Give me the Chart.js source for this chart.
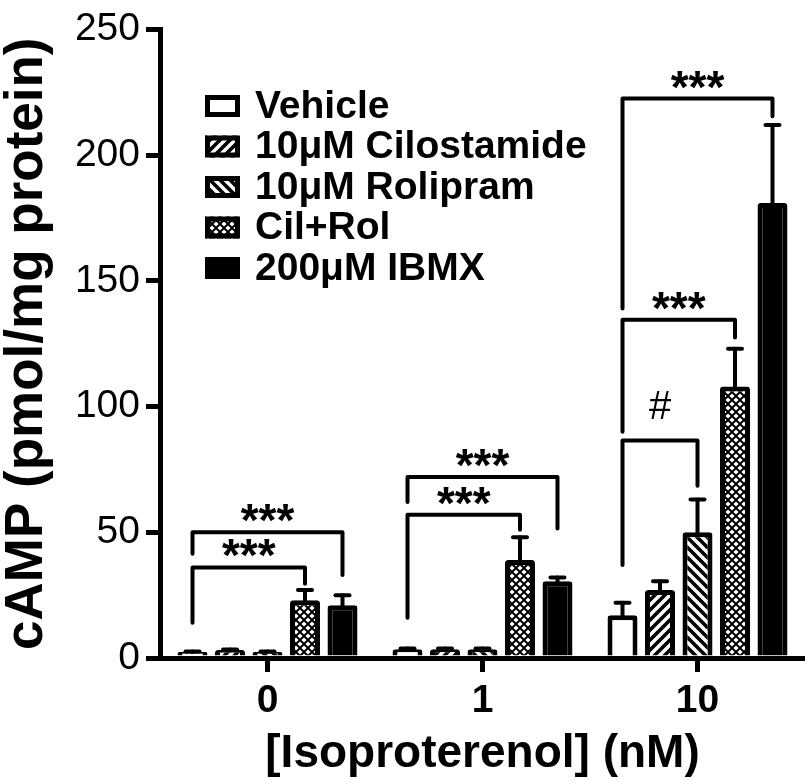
<!DOCTYPE html>
<html>
<head>
<meta charset="utf-8">
<script src="https://cdn.jsdelivr.net/npm/chart.js@4.4.1/dist/chart.umd.min.js"></script>
<style>
  html, body { margin: 0; padding: 0; background: #fff; }
</style>
</head>
<body>
<canvas id="campChart" width="805" height="782"></canvas>
<script>
// data
const categories = ["0", "1", "10"];
const seriesLabels = ["Vehicle", "10\u03BCM Cilostamide", "10\u03BCM Rolipram", "Cil+Rol", "200\u03BCM IBMX"];
const vehicle = [2.4, 3.5, 17];
const vehicleSem = [0.2, 0.3, 5];
const cilostamide = [3.2, 3.5, 27];
const cilostamideSem = [0.2, 0.3, 3.5];
const rolipram = [2.4, 3.5, 50];
const rolipramSem = [0.2, 0.3, 13];
const cilRol = [23, 39, 108];
const cilRolSem = [4, 9, 15];
const ibmx = [21, 30.5, 181];
const ibmxSem = [4, 1.5, 31];
const yTicks = [0, 50, 100, 150, 200, 250];

// significance brackets: group, from series, to series, values in y units
const brackets = [
  { group: 0, from: 0, to: 3, top: 36, leftFoot: 14, rightFoot: 29.5, label: "***" },
  { group: 0, from: 0, to: 4, top: 50, leftFoot: 41.5, rightFoot: 33, label: "***" },
  { group: 1, from: 0, to: 3, top: 57, leftFoot: 16, rightFoot: 51, label: "***" },
  { group: 1, from: 0, to: 4, top: 72, leftFoot: 62, rightFoot: 51.5, label: "***" },
  { group: 2, from: 0, to: 2, top: 86.5, leftFoot: 37, rightFoot: 68.5, label: "#" },
  { group: 2, from: 0, to: 3, top: 134.5, leftFoot: 90, rightFoot: 127.5, label: "***" },
  { group: 2, from: 0, to: 4, top: 222.5, leftFoot: 139, rightFoot: 215.5, label: "***" },
];

const FONT = "'Liberation Sans', Arial, sans-serif";

const canvas = document.getElementById("campChart");
const ctx = canvas.getContext("2d");

// fill patterns
function stripes(dir) {
  const c = document.createElement("canvas");
  c.width = c.height = 10;
  const g = c.getContext("2d");
  g.fillStyle = "#fff";
  g.fillRect(0, 0, 10, 10);
  g.strokeStyle = "#000";
  g.lineWidth = 3.6;
  g.beginPath();
  if (dir > 0) {
    g.moveTo(-5, 5); g.lineTo(5, -5);
    g.moveTo(0, 10); g.lineTo(10, 0);
    g.moveTo(5, 15); g.lineTo(15, 5);
  } else {
    g.moveTo(-5, 5); g.lineTo(5, 15);
    g.moveTo(0, 0); g.lineTo(10, 10);
    g.moveTo(5, -5); g.lineTo(15, 5);
  }
  g.stroke();
  return ctx.createPattern(c, "repeat");
}

function crosshatch() {
  const c = document.createElement("canvas");
  c.width = c.height = 8;
  const g = c.getContext("2d");
  g.fillStyle = "#000";
  g.fillRect(0, 0, 8, 8);
  g.fillStyle = "#fff";
  const r = 2.6;
  [[4, 4], [0, 0], [8, 0], [0, 8], [8, 8]].forEach(([x, y]) => {
    g.beginPath();
    g.moveTo(x, y - r); g.lineTo(x + r, y); g.lineTo(x, y + r); g.lineTo(x - r, y);
    g.closePath();
    g.fill();
  });
  return ctx.createPattern(c, "repeat");
}

const fills = ["#fff", stripes(1), stripes(-1), crosshatch(), "#000"];
const values = [vehicle, cilostamide, rolipram, cilRol, ibmx];
const sems = [vehicleSem, cilostamideSem, rolipramSem, cilRolSem, ibmxSem];

const errorBars = {
  id: "errorBars",
  afterDatasetsDraw(chart) {
    const c = chart.ctx;
    const y = chart.scales.y;
    c.save();
    c.strokeStyle = "#000";
    c.lineCap = "round";
    chart.data.datasets.forEach((ds, i) => {
      chart.getDatasetMeta(i).data.forEach((bar, j) => {
        const top = y.getPixelForValue(ds.data[j] + sems[i][j]);
        c.lineWidth = 4;
        c.beginPath();
        c.moveTo(bar.x, bar.y);
        c.lineTo(bar.x, top);
        c.stroke();
        c.beginPath();
        c.moveTo(bar.x - 7, top);
        c.lineTo(bar.x + 7, top);
        c.stroke();
      });
    });
    c.restore();
  },
};

const sigBrackets = {
  id: "sigBrackets",
  afterDraw(chart) {
    const c = chart.ctx;
    const y = chart.scales.y;
    c.save();
    c.strokeStyle = "#000";
    c.fillStyle = "#000";
    c.lineWidth = 4;
    c.lineCap = "round";
    c.lineJoin = "round";
    brackets.forEach((b) => {
      const x1 = chart.getDatasetMeta(b.from).data[b.group].x;
      const x2 = chart.getDatasetMeta(b.to).data[b.group].x;
      const yt = y.getPixelForValue(b.top);
      c.beginPath();
      c.moveTo(x1, y.getPixelForValue(b.leftFoot));
      c.lineTo(x1, yt);
      c.lineTo(x2, yt);
      c.lineTo(x2, y.getPixelForValue(b.rightFoot));
      c.stroke();
      const star = b.label.indexOf("*") >= 0;
      c.font = (star ? "bold 46px " : "40px ") + FONT;
      c.textAlign = "center";
      c.textBaseline = "alphabetic";
      const m = c.measureText(b.label);
      const gap = star ? 10 : 22;
      c.fillText(b.label, (x1 + x2) / 2, yt - gap - m.actualBoundingBoxDescent);
    });
    c.restore();
  },
};

const boxLegend = {
  id: "boxLegend",
  afterDraw(chart) {
    const c = chart.ctx;
    c.save();
    c.font = "bold 39px " + FONT;
    c.textBaseline = "middle";
    c.textAlign = "left";
    chart.data.datasets.forEach((ds, i) => {
      const cy = 106 + i * 40.5;
      c.fillStyle = ds.backgroundColor;
      c.fillRect(205, cy - 11, 35, 22);
      c.strokeStyle = "#000";
      c.lineWidth = 5;
      c.strokeRect(207.5, cy - 8.5, 30, 17);
      c.fillStyle = "#000";
      c.fillText(ds.label, 255, cy + 1);
    });
    c.restore();
  },
};

const campChart = new Chart(ctx, {
  type: "bar",
  data: {
    labels: categories,
    datasets: seriesLabels.map((label, i) => ({
      label: label,
      data: values[i],
      backgroundColor: fills[i],
      borderColor: "#000",
      borderWidth: 5,
      borderRadius: 3,
      barPercentage: 0.8,
      categoryPercentage: 0.872,
    })),
  },
  options: {
    responsive: false,
    animation: false,
    events: [],
    layout: { padding: { top: 20, right: 0, bottom: 0, left: 0 } },
    plugins: {
      legend: { display: false },
      tooltip: { enabled: false },
    },
    scales: {
      x: {
        z: 1,
        grid: {
          offset: false,
          drawOnChartArea: false,
          tickLength: 14,
          tickWidth: 5,
          tickColor: "#000",
          lineWidth: 5,
          color: "#000",
        },
        border: { display: true, color: "#000", width: 5 },
        ticks: {
          color: "#000",
          padding: 6,
          font: { family: FONT, size: 39, weight: "bold" },
        },
        title: {
          display: true,
          text: "[Isoproterenol] (nM)",
          color: "#000",
          padding: 0,
          font: { family: FONT, size: 46, weight: "bold" },
        },
        afterFit: (s) => { s.height = 124; },
      },
      y: {
        min: 0,
        max: 250,
        grid: {
          drawOnChartArea: false,
          tickLength: 14,
          tickWidth: 5,
          tickColor: "#000",
          lineWidth: 5,
          color: "#000",
        },
        border: { display: true, color: "#000", width: 5 },
        ticks: {
          color: "#000",
          padding: 6,
          font: { family: FONT, size: 39 },
        },
        afterBuildTicks: (s) => { s.ticks = yTicks.map((v) => ({ value: v })); },
        title: {
          display: true,
          text: "cAMP (pmol/mg protein)",
          color: "#000",
          padding: 0,
          font: { family: FONT, size: 53, weight: "bold", lineHeight: 1.05 },
        },
        afterFit: (s) => { s.width = 160; },
      },
    },
  },
  plugins: [errorBars, sigBrackets, boxLegend],
});
</script>
</body>
</html>
